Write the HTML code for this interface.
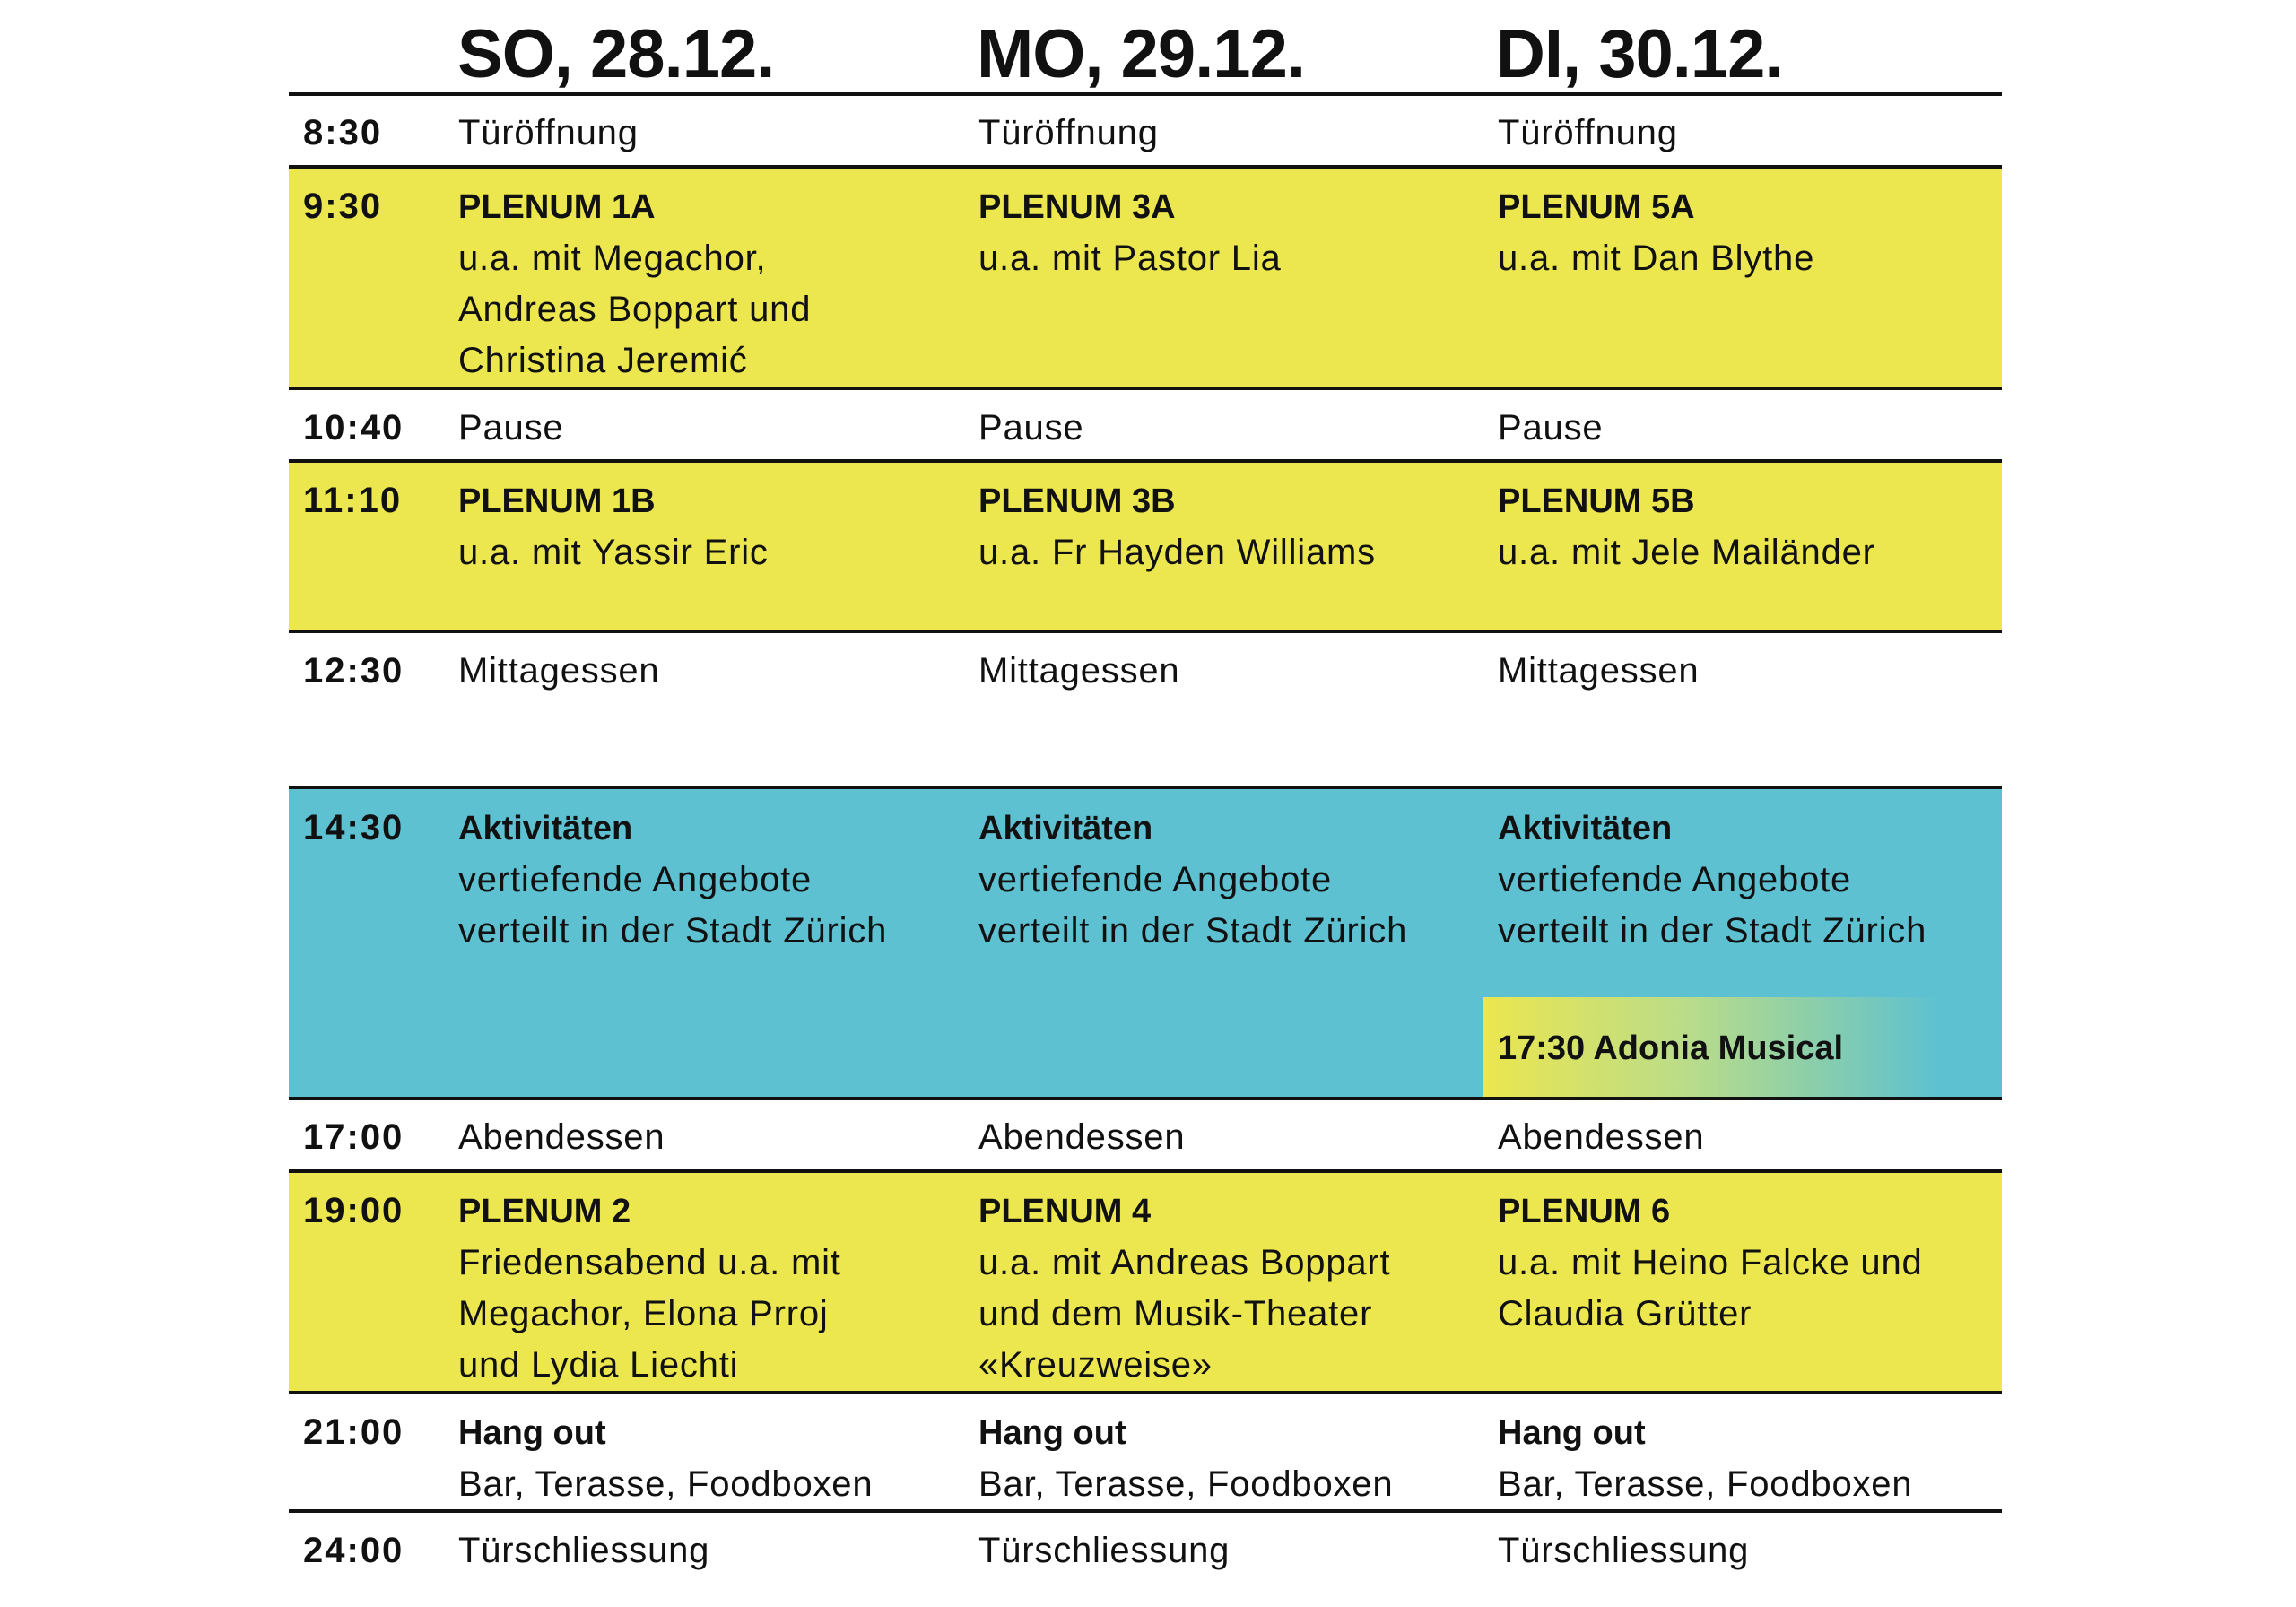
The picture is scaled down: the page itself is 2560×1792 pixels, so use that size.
<!DOCTYPE html>
<html><head><meta charset="utf-8"><style>
html,body{margin:0;padding:0;background:#fff;}
body{width:2560px;height:1792px;position:relative;overflow:hidden;font-family:"Liberation Sans",sans-serif;color:#111;}
.band{position:absolute;left:322px;width:1910px;}
.y{background:#ECE64F;}
.b{background:#5DC1D1;}
.ln{position:absolute;left:322px;width:1910px;height:4px;background:#111;}
.t{position:absolute;font-size:40px;letter-spacing:0.8px;line-height:57px;white-space:nowrap;}
.t b{font-size:38px;letter-spacing:0;}
.bd{font-weight:bold;font-size:40px;letter-spacing:2px;}
.h{position:absolute;top:16px;font-size:76px;font-weight:bold;letter-spacing:-1px;line-height:90px;}
</style></head><body>
<div class="h" style="left:510px">SO, 28.12.</div>
<div class="h" style="left:1089px">MO, 29.12.</div>
<div class="h" style="left:1668px">DI, 30.12.</div>

<div class="band y" style="top:186px;height:247px"></div>
<div class="band y" style="top:514px;height:190px"></div>
<div class="band b" style="top:878px;height:347px"></div>
<div style="position:absolute;left:1654px;top:1112px;width:509px;height:113px;background:linear-gradient(90deg,#ECE64F 0%,#B9DC8A 45%,#8FCFA8 70%,#5DC1D1 100%);"></div>
<div class="band y" style="top:1306px;height:247px"></div>

<div class="ln" style="top:103px"></div>
<div class="ln" style="top:184px"></div>
<div class="ln" style="top:431px"></div>
<div class="ln" style="top:512px"></div>
<div class="ln" style="top:702px"></div>
<div class="ln" style="top:876px"></div>
<div class="ln" style="top:1223px"></div>
<div class="ln" style="top:1304px"></div>
<div class="ln" style="top:1551px"></div>
<div class="ln" style="top:1683px"></div>

<div class="t bd" style="left:338px;top:120px">8:30</div>
<div class="t bd" style="left:338px;top:202px">9:30</div>
<div class="t bd" style="left:338px;top:449px">10:40</div>
<div class="t bd" style="left:338px;top:530px">11:10</div>
<div class="t bd" style="left:338px;top:720px">12:30</div>
<div class="t bd" style="left:338px;top:895px">14:30</div>
<div class="t bd" style="left:338px;top:1240px">17:00</div>
<div class="t bd" style="left:338px;top:1322px">19:00</div>
<div class="t bd" style="left:338px;top:1569px">21:00</div>
<div class="t bd" style="left:338px;top:1701px">24:00</div>

<div class="t" style="left:511px;top:120px">Türöffnung</div>
<div class="t" style="left:511px;top:202px"><b>PLENUM 1A</b><br>u.a. mit Megachor,<br>Andreas Boppart und<br>Christina Jeremić</div>
<div class="t" style="left:511px;top:449px">Pause</div>
<div class="t" style="left:511px;top:530px"><b>PLENUM 1B</b><br>u.a. mit Yassir Eric</div>
<div class="t" style="left:511px;top:720px">Mittagessen</div>
<div class="t" style="left:511px;top:895px"><b>Aktivitäten</b><br>vertiefende Angebote<br>verteilt in der Stadt Zürich</div>
<div class="t" style="left:511px;top:1240px">Abendessen</div>
<div class="t" style="left:511px;top:1322px"><b>PLENUM 2</b><br>Friedensabend u.a. mit<br>Megachor, Elona Prroj<br>und Lydia Liechti</div>
<div class="t" style="left:511px;top:1569px"><b>Hang out</b><br>Bar, Terasse, Foodboxen</div>
<div class="t" style="left:511px;top:1701px">Türschliessung</div>

<div class="t" style="left:1091px;top:120px">Türöffnung</div>
<div class="t" style="left:1091px;top:202px"><b>PLENUM 3A</b><br>u.a. mit Pastor Lia</div>
<div class="t" style="left:1091px;top:449px">Pause</div>
<div class="t" style="left:1091px;top:530px"><b>PLENUM 3B</b><br>u.a. Fr Hayden Williams</div>
<div class="t" style="left:1091px;top:720px">Mittagessen</div>
<div class="t" style="left:1091px;top:895px"><b>Aktivitäten</b><br>vertiefende Angebote<br>verteilt in der Stadt Zürich</div>
<div class="t" style="left:1091px;top:1240px">Abendessen</div>
<div class="t" style="left:1091px;top:1322px"><b>PLENUM 4</b><br>u.a. mit Andreas Boppart<br>und dem Musik-Theater<br>«Kreuzweise»</div>
<div class="t" style="left:1091px;top:1569px"><b>Hang out</b><br>Bar, Terasse, Foodboxen</div>
<div class="t" style="left:1091px;top:1701px">Türschliessung</div>

<div class="t" style="left:1670px;top:120px">Türöffnung</div>
<div class="t" style="left:1670px;top:202px"><b>PLENUM 5A</b><br>u.a. mit Dan Blythe</div>
<div class="t" style="left:1670px;top:449px">Pause</div>
<div class="t" style="left:1670px;top:530px"><b>PLENUM 5B</b><br>u.a. mit Jele Mailänder</div>
<div class="t" style="left:1670px;top:720px">Mittagessen</div>
<div class="t" style="left:1670px;top:895px"><b>Aktivitäten</b><br>vertiefende Angebote<br>verteilt in der Stadt Zürich</div>
<div class="t" style="left:1670px;top:1140px"><b>17:30 Adonia Musical</b></div>
<div class="t" style="left:1670px;top:1240px">Abendessen</div>
<div class="t" style="left:1670px;top:1322px"><b>PLENUM 6</b><br>u.a. mit Heino Falcke und<br>Claudia Grütter</div>
<div class="t" style="left:1670px;top:1569px"><b>Hang out</b><br>Bar, Terasse, Foodboxen</div>
<div class="t" style="left:1670px;top:1701px">Türschliessung</div>
</body></html>
